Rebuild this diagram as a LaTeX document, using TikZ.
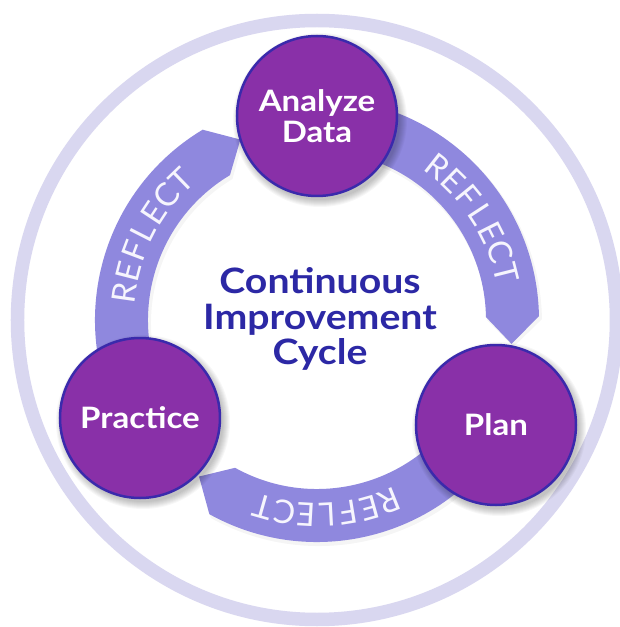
\documentclass[tikz,border=0pt]{standalone}
\usepackage{fontspec}
\setmainfont{Lato}
\newfontfamily\widelato{Lato}[FakeStretch=1.12]
\definecolor{ringc}{RGB}{217,215,240}
\definecolor{bandc}{RGB}{143,136,222}
\definecolor{circfill}{RGB}{137,48,168}
\definecolor{circdraw}{RGB}{58,42,172}
\definecolor{titlec}{RGB}{44,40,165}
\definecolor{letterc}{RGB}{246,245,253}
\begin{document}
\begin{tikzpicture}[x=1pt,y=1pt,
  stagebox/.style={circle, fill=circfill, draw=circdraw, line width=2.5pt,
    minimum size=160pt, inner sep=0pt, text=white, align=center,
    font=\widelato\fontsize{29.5}{31.5}\selectfont\bfseries},
  bandshape/.style={fill=bandc},
  reflectletter/.style={text=letterc, inner sep=0pt,
    font=\fontsize{32.5}{32.5}\selectfont},
  titletext/.style={text=titlec, align=center,
    font=\widelato\fontsize{35}{35.5}\selectfont\bfseries},
  softshadow/.style={fill=black, opacity=0.03}]
\useasboundingbox (-317,-307) rectangle (303,320);
\fill[white] (-317,-307) rectangle (303,320);
% outer ring
\draw[ringc, line width=13.5pt] (0,0) circle (299.5);
% curved arrow bands
\foreach \a in {210,90,-30}{
  \fill[black, opacity=0.04] ([shift={(2,-3)}]\a:223) arc[start angle=\a, end angle={\a-89}, radius=223]
    -- ([shift={(2,-3)}]{\a-97}:196) -- ([shift={(2,-3)}]{\a-89}:168)
    arc[start angle={\a-89}, end angle=\a, radius=168] -- cycle;
  \fill[bandshape] (\a:222) arc[start angle=\a, end angle={\a-89}, radius=222]
    -- ({\a-97}:196) -- ({\a-89}:169)
    arc[start angle={\a-89}, end angle=\a, radius=169] -- cycle;
}
% REFLECT letters
\foreach \m in {153,33,273}{
  \foreach \c [count=\i] in {R,E,F,L,E,C,T}{
    \pgfmathsetmacro{\th}{\m+(4-\i)*6.3}
    \node[reflectletter, rotate=\th-90] (r\m-\i) at (\th:195) {\c};
  }
}
% circle shadows
\foreach \px/\py in {0/204,-177/-98,179/-105}{
  \foreach \k in {1,...,8}{
    \fill[softshadow] ({\px+3},{\py-4}) circle ({79+\k});
  }
}
% stages
\node[stagebox] (analyze) at (0,204) {Analyze\\Data};
\node[stagebox] (practice) at (-177,-98) {Practice};
\node[stagebox] (plan) at (179,-105) {Plan};
% title
\node[titletext] (title) at (3,1) {Continuous\\Improvement\\Cycle};
\end{tikzpicture}
\end{document}
